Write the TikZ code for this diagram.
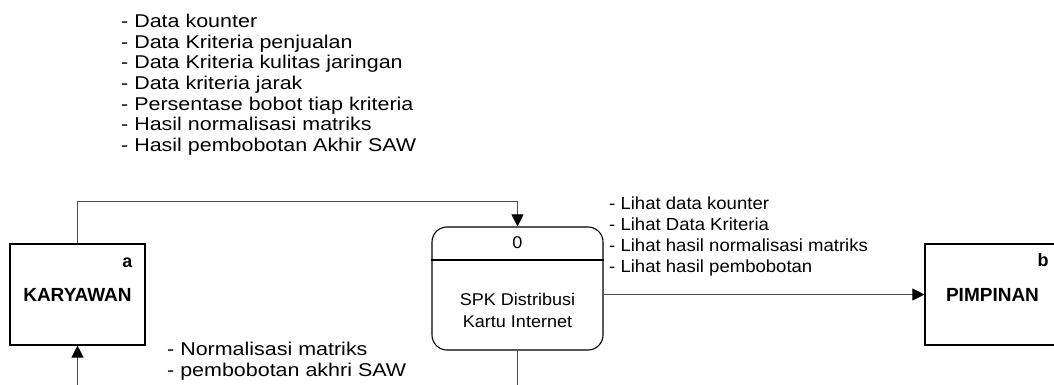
\documentclass[tikz,border=0pt]{standalone}
\usepackage{fontspec}
\setmainfont{Liberation Sans}
\newfontfamily\wideFont[FakeStretch=1.16]{Liberation Sans}
\newfontfamily\midFont[FakeStretch=1.06]{Liberation Sans}
\usetikzlibrary{arrows.meta, positioning}

\begin{document}
\begin{tikzpicture}[x=1pt, y=-1pt, >={Triangle[length=12pt,width=12pt,color=black]},
  entitas/.style={draw, line width=1.1pt, minimum width=135pt, minimum height=101pt,
    inner sep=0pt, font=\bfseries\fontsize{19}{20}\selectfont},
  kode/.style={inner sep=0pt, font=\bfseries\fontsize{18}{20}\selectfont},
  alur/.style={draw=black!70, line width=1pt},
  ket/.style={anchor=base west, inner sep=0pt, font=\wideFont\fontsize{18.5}{20}\selectfont},
  ketkanan/.style={ket, font=\midFont\fontsize{17.5}{20}\selectfont}]
\useasboundingbox (0,0) rectangle (1054,385);
\clip (0,0) rectangle (1054,385);

% entitas luar
\node[entitas] (karyawan) at (77.5,294.5) {KARYAWAN};
\node[kode] (kode-a) at (127.5,262.5) {a};
\node[entitas] (pimpinan) at (992.5,294.5) {PIMPINAN};
\node[kode] (kode-b) at (1043,260) {b};

% proses
\node[draw, rounded corners=15pt, line width=1.1pt, minimum width=171pt,
  minimum height=123pt] (proses) at (517.5,288.5) {};
\draw[line width=1.1pt] ([yshift=-33.5pt]proses.north west) -- ([yshift=-33.5pt]proses.north east);
\node[inner sep=0pt, font=\midFont\fontsize{17}{20}\selectfont] (nomor) at (517.5,243) {0};
\node[align=center, inner sep=0pt, font=\midFont\fontsize{17}{22.5}\selectfont]
  (proses-teks) at (517.5,310.3) {SPK Distribusi\\Kartu Internet};

% aliran data
\coordinate (tepi-bawah) at (0,392);
\draw[alur,->] (karyawan.north) -- ++(0,-42) -| (proses.north);
\draw[alur,->] (pimpinan.west -| proses.east) -- (pimpinan.west);
\draw[alur] (proses.south) -- (proses.south |- tepi-bawah);
\draw[alur,->] (karyawan.south |- tepi-bawah) -- (karyawan.south);

% keterangan
\foreach \teks [count=\i] in {Data kounter, Data Kriteria penjualan,
    Data Kriteria kulitas jaringan, Data kriteria jarak,
    Persentase bobot tiap kriteria, Hasil normalisasi matriks,
    Hasil pembobotan Akhir SAW}
  \node[ket] (masuk-\i) at (121,6.9+20.67*\i) {- \teks};
\foreach \teks [count=\i] in {Lihat data kounter, Lihat Data Kriteria,
    Lihat hasil normalisasi matriks, Lihat hasil pembobotan}
  \node[ketkanan] (lihat-\i) at (609,188.3+21*\i) {- \teks};
\foreach \teks [count=\i] in {Normalisasi matriks, pembobotan akhri SAW}
  \node[ket] (balik-\i) at (167,334.6+21*\i) {- \teks};
\end{tikzpicture}
\end{document}
